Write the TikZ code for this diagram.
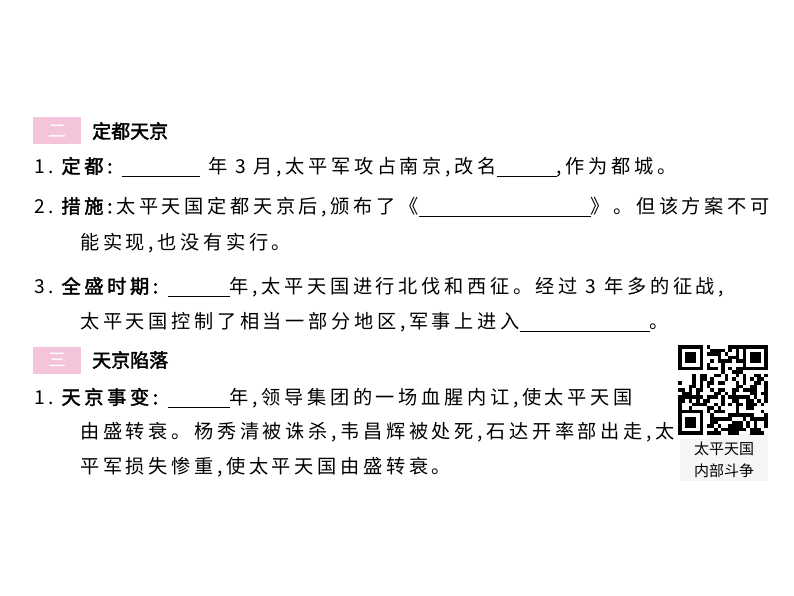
\documentclass[tikz,border=0pt]{standalone}
\usepackage{fontspec}
\setmainfont{Noto Sans CJK SC}[AutoFakeBold=2]
\newfontfamily\wide{Noto Sans CJK SC}[LetterSpace=19,AutoFakeBold=2]
\definecolor{hdrpink}{RGB}{244,196,218}
\definecolor{capgray}{RGB}{246,246,246}
\newcommand{\blk}[1]{\rule[-3pt]{#1pt}{0.7pt}}
\newcommand{\num}[1]{#1.\hspace{4pt}}
\newcommand{\lbl}[1]{\textbf{#1:}\hspace{6pt}}
\begin{document}
\begin{tikzpicture}[x=1pt,y=-1pt,
  txt/.style={anchor=west,inner sep=0pt,font=\wide\fontsize{19.2}{19.2}\selectfont},
  hdr/.style={fill=hdrpink,minimum width=48pt,minimum height=27pt,inner sep=0pt,text=white,font=\fontsize{18}{18}\selectfont}]
\useasboundingbox (0,0) rectangle (794,596);
\fill[white] (0,0) rectangle (794,596);
\node[hdr] (h1) at (57,131) {二};
\node[anchor=west,inner sep=0pt,font=\fontsize{19}{19}\selectfont\bfseries] (h1t) at (92,131) {定都天京};
\node[txt] (l1) at (34,167) {\num{1}\lbl{定都}\blk{78} 年 3 月,太平军攻占南京,改名\blk{60},作为都城。};
\node[txt] (l2) at (34,207) {\num{2}\textbf{措施:}太平天国定都天京后,颁布了《\blk{172}》。但该方案不可};
\node[txt] (l2b) at (80,243) {能实现,也没有实行。};
\node[txt] (l3) at (34,287) {\num{3}\lbl{全盛时期}\blk{62}年,太平天国进行北伐和西征。经过 3 年多的征战,};
\node[txt] (l3b) at (80,322) {太平天国控制了相当一部分地区,军事上进入\blk{130}。};
\node[hdr] (h2) at (57,360) {三};
\node[anchor=west,inner sep=0pt,font=\fontsize{19}{19}\selectfont\bfseries] (h2t) at (92,360) {天京陷落};
\node[txt] (l4) at (34,398) {\num{1}\lbl{天京事变}\blk{62}年,领导集团的一场血腥内讧,使太平天国};
\node[txt] (l4b) at (80,432) {由盛转衰。杨秀清被诛杀,韦昌辉被处死,石达开率部出走,太};
\node[txt] (l4c) at (80,467) {平军损失惨重,使太平天国由盛转衰。};
% QR code
\fill[capgray] (680,433) rectangle (768,481);
\node[inner sep=0pt,font=\fontsize{15}{15}\selectfont] (c1) at (724,449) {太平天国};
\node[inner sep=0pt,font=\fontsize{15}{15}\selectfont] (c2) at (724,471) {内部斗争};
\begin{scope}[shift={(678,345)}]
\pgfmathsetseed{7}
\foreach \i in {0,...,24}{\foreach \j in {0,...,24}{
  \pgfmathparse{rnd<0.5?1:0}
  \ifnum\pgfmathresult=1 \fill[black] (\i*3.6,\j*3.6) rectangle ++(3.6,3.6);\fi}}
\foreach \px/\py in {0/0,64.8/0,0/64.8}{
  \begin{scope}[shift={(\px,\py)}]
  \fill[white] (0,0) rectangle (28.8,28.8);
  \fill[black] (0,0) rectangle (25.2,25.2);
  \fill[white] (3.6,3.6) rectangle (21.6,21.6);
  \fill[black] (7.2,7.2) rectangle (18,18);
  \end{scope}}
\end{scope}
\end{tikzpicture}
\end{document}
